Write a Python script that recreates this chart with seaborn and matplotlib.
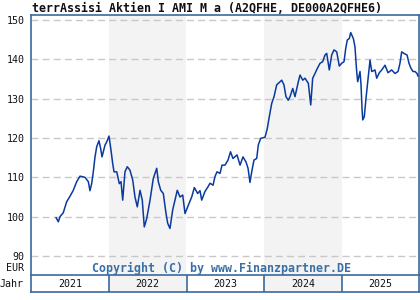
import matplotlib
matplotlib.use("Agg")
import matplotlib.pyplot as plt
import seaborn as sns
import pandas as pd

# ---- data (decimal years, price in EUR) ----
dates = [
    2021.318, 2021.348, 2021.370, 2021.412, 2021.456, 2021.499, 2021.541, 2021.585,
    2021.628, 2021.692, 2021.735, 2021.756, 2021.778, 2021.799, 2021.821, 2021.843,
    2021.872, 2021.894, 2021.911, 2021.950, 2021.972, 2022.001, 2022.027, 2022.049,
    2022.066, 2022.101, 2022.134, 2022.156, 2022.178, 2022.207, 2022.237, 2022.272,
    2022.307, 2022.336, 2022.366, 2022.401, 2022.430, 2022.456, 2022.487, 2022.530,
    2022.572, 2022.616, 2022.637, 2022.668, 2022.701, 2022.736, 2022.758, 2022.787,
    2022.822, 2022.852, 2022.881, 2022.916, 2022.951, 2022.981, 2023.023, 2023.067,
    2023.101, 2023.144, 2023.174, 2023.196, 2023.238, 2023.277, 2023.303, 2023.342,
    2023.367, 2023.393, 2023.432, 2023.458, 2023.496, 2023.535, 2023.567, 2023.599,
    2023.651, 2023.690, 2023.728, 2023.767, 2023.793, 2023.818, 2023.844, 2023.870,
    2023.905, 2023.925, 2023.956, 2024.012, 2024.041, 2024.067, 2024.098, 2024.128,
    2024.162, 2024.205, 2024.227, 2024.256, 2024.282, 2024.312, 2024.334, 2024.369,
    2024.398, 2024.441, 2024.463, 2024.498, 2024.527, 2024.570, 2024.601, 2024.626,
    2024.656, 2024.686, 2024.721, 2024.755, 2024.785, 2024.807, 2024.840, 2024.871,
    2024.901, 2024.936, 2024.969, 2025.000, 2025.030, 2025.052, 2025.072, 2025.098,
    2025.116, 2025.150, 2025.171, 2025.193, 2025.206, 2025.236, 2025.249, 2025.262,
    2025.271, 2025.291, 2025.313, 2025.343, 2025.365, 2025.387, 2025.429, 2025.451,
    2025.485, 2025.516, 2025.558, 2025.597, 2025.644, 2025.687, 2025.726, 2025.751,
    2025.773, 2025.803, 2025.842, 2025.867, 2025.893, 2025.919, 2025.945, 2025.971,
    2025.983,
]
prices = [
    99.8, 98.7, 100.0, 101.0, 103.8, 105.2, 106.7, 108.9,
    110.3, 110.0, 108.9, 106.6, 108.4, 111.4, 115.2, 117.8,
    119.3, 117.3, 115.2, 118.2, 119.0, 120.5, 116.9, 113.5,
    111.4, 111.4, 108.4, 108.9, 104.2, 111.4, 112.7, 111.8,
    109.3, 105.0, 102.5, 106.7, 104.2, 97.4, 99.5, 104.2,
    109.7, 112.3, 108.9, 106.7, 105.9, 100.8, 98.3, 97.0,
    101.7, 104.2, 106.7, 105.0, 105.5, 100.8, 102.9, 105.0,
    107.4, 105.9, 106.6, 104.2, 106.4, 107.6, 108.5, 108.0,
    110.2, 111.4, 111.0, 113.1, 113.1, 114.4, 116.5, 114.8,
    115.7, 113.1, 115.2, 113.9, 112.3, 108.7, 111.8, 114.4,
    114.8, 118.2, 119.9, 120.2, 122.4, 125.4, 128.8, 130.5,
    133.5, 134.3, 134.7, 133.5, 130.5, 129.6, 130.5, 132.6,
    130.5, 134.3, 136.0, 134.7, 135.2, 133.9, 128.4, 135.2,
    136.4, 137.7, 139.0, 139.4, 141.1, 141.5, 137.3, 141.1,
    142.4, 141.9, 138.3, 139.0, 139.4, 142.8, 144.9, 145.3,
    146.8, 145.3, 143.2, 136.9, 134.3, 136.9, 133.5, 127.5,
    124.6, 125.4, 130.1, 135.6, 139.8, 136.9, 137.3, 135.2,
    136.6, 137.3, 138.5, 136.6, 137.3, 136.4, 136.9, 139.0,
    141.9, 141.5, 141.1, 139.0, 137.7, 136.9, 136.9, 136.4,
    135.7,
]
years = [2021, 2022, 2023, 2024, 2025]
y_ticks = [90, 100, 110, 120, 130, 140, 150]
title = "terrAssisi Aktien I AMI M a (A2QFHE, DE000A2QFHE6)"
copyright_text = "Copyright (C) by www.Finanzpartner.DE"

df = pd.DataFrame({"date": dates, "price": prices})

sns.set_style("white")
plt.rcParams["font.family"] = ["DejaVu Sans Mono", "DejaVu Sans"]

W, H = 420, 300
fig = plt.figure(figsize=(W / 100, H / 100), dpi=100)

border = "#3b6a9c"
shade = "#f3f3f3"
line_c = "#0a3a9e"

# pixel geometry
x0, x1 = 31.3, 419.3
y_top, y_main_bot, y_row_bot = 15, 275, 292

ax = fig.add_axes([x0 / W, 1 - y_main_bot / H, (x1 - x0) / W, (y_main_bot - y_top) / H])
axy = fig.add_axes([x0 / W, 1 - y_row_bot / H, (x1 - x0) / W, (y_row_bot - y_main_bot) / H])

ymin = 90 - 19 / 3.933
ymax = 150 + 5 / 3.933
xmin, xmax = 2021.0, 2026.0

for i, yr in enumerate(years):
    if i % 2 == 1:
        ax.axvspan(yr, yr + 1, color=shade, lw=0, zorder=0)
        axy.axvspan(yr, yr + 1, color=shade, lw=0, zorder=0)

for t in y_ticks:
    ax.axhline(t, color="#c8c8c8", lw=1.0, dashes=(5, 3), zorder=1)

sns.lineplot(data=df, x="date", y="price", ax=ax, color=line_c, lw=1.1, zorder=3)

ax.set_xlim(xmin, xmax)
ax.set_ylim(ymin, ymax)
ax.set_xticks([])
ax.set_yticks(y_ticks)
ax.set_yticklabels([str(t) for t in y_ticks], fontsize=7.2, color="#111111")
ax.tick_params(axis="y", length=0, pad=5)
ax.set_xlabel("")
ax.set_ylabel("")
for s in ["left", "right", "top"]:
    ax.spines[s].set_color(border)
    ax.spines[s].set_linewidth(1.2)
ax.spines["bottom"].set_visible(False)

ax.text(0.5 * (xmin + xmax) - 0.05, 86.9, copyright_text, ha="center", va="center",
        fontsize=8.4, fontweight="bold", color="#3a6ea5", zorder=4)

axy.set_xlim(xmin, xmax)
axy.set_ylim(0, 1)
axy.set_xticks([])
axy.set_yticks([])
for yr in years[1:]:
    axy.axvline(yr, color=border, lw=1.2)
for yr in years:
    axy.text(yr + 0.5, 0.48, str(yr), ha="center", va="center", fontsize=7.2, color="#111111")
for s in axy.spines.values():
    s.set_color(border)
    s.set_linewidth(1.2)

fig.text(24 / W, 1 - 268 / H, "EUR", ha="right", va="center", fontsize=7.2, color="#111111")
fig.text(24 / W, 1 - 284 / H, "Jahr", ha="right", va="center", fontsize=7.2, color="#111111")
fig.text(207 / W, 1 - 9 / H, title, ha="center", va="center", fontsize=8.4,
         fontweight="bold", color="#111111")

fig.savefig("out.png", dpi=100)
